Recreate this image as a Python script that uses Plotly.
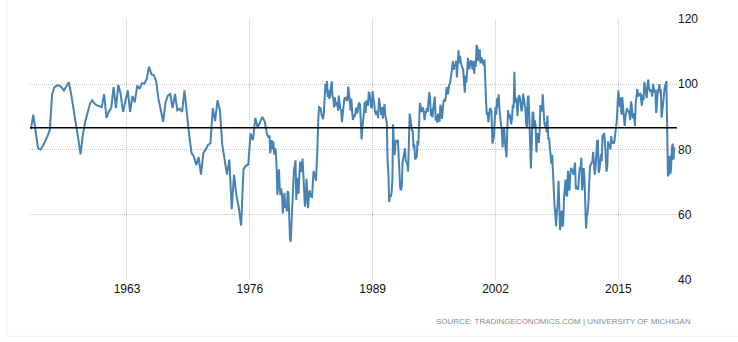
import numpy as np
import pandas as pd
import plotly.graph_objects as go

# ---- quarterly readings 1952-1977 ----
EARLY_DATES = [
    "1952-11", "1953-02", "1953-08", "1953-11",
    "1954-02", "1954-05", "1954-08", "1954-11",
    "1955-02", "1955-05", "1955-08", "1955-11",
    "1956-02", "1956-05", "1956-08", "1956-11",
    "1957-02", "1957-05", "1957-08", "1957-11",
    "1958-02", "1958-05", "1958-08", "1958-11",
    "1959-02", "1959-05", "1959-08", "1959-11",
    "1960-02", "1960-05", "1960-08", "1960-11",
    "1961-02", "1961-05", "1961-08", "1961-11",
    "1962-02", "1962-05", "1962-08", "1962-11",
    "1963-02", "1963-05", "1963-08", "1963-11",
    "1964-02", "1964-05", "1964-08", "1964-11",
    "1965-02", "1965-05", "1965-08", "1965-11",
    "1966-02", "1966-05", "1966-08", "1966-11",
    "1967-02", "1967-05", "1967-08", "1967-11",
    "1968-02", "1968-05", "1968-08", "1968-11",
    "1969-02", "1969-05", "1969-08", "1969-11",
    "1970-02", "1970-05", "1970-08", "1970-11",
    "1971-02", "1971-05", "1971-08", "1971-11",
    "1972-02", "1972-05", "1972-08", "1972-11",
    "1973-02", "1973-05", "1973-08", "1973-11",
    "1974-02", "1974-05", "1974-08", "1974-11",
    "1975-02", "1975-05", "1975-08", "1975-11",
    "1976-02", "1976-05", "1976-08", "1976-11",
    "1977-02", "1977-05", "1977-08", "1977-11",
]
EARLY_VALUES = [
    86.2, 90.7, 80.5, 80.0,
    81.0, 82.3, 84.0, 86.0,
    97.0, 99.1, 99.6, 99.6,
    99.0, 98.1, 99.6, 100.6,
    97.1, 92.8, 88.8, 83.5,
    78.5, 84.5, 88.5, 91.7,
    94.0, 95.1, 94.0, 93.5,
    93.2, 93.0, 97.0, 89.7,
    91.7, 92.6, 99.1, 92.7,
    99.8, 97.0, 91.5, 94.5,
    98.1, 91.5, 96.4, 94.5,
    99.6, 98.6, 100.3, 100.2,
    101.5, 105.4, 103.1, 102.8,
    101.0, 95.5, 91.5, 88.5,
    94.5, 96.5, 97.0, 92.7,
    97.0, 92.0, 92.5, 91.5,
    98.1, 90.5, 84.5, 78.9,
    77.9, 75.2, 77.7, 72.3,
    78.9, 80.0, 81.4, 81.9,
    92.7, 88.7, 95.1, 92.0,
    81.4, 77.0, 72.3, 76.9,
    61.7, 72.3, 66.0, 62.2,
    56.7, 74.0, 75.0, 75.4,
    84.9, 82.9, 89.7, 86.7,
    88.5, 90.0, 88.5, 84.5,
]

# ---- monthly readings from Jan 1978 ----
MONTHLY_START = "1978-01"
VALUES_1978_1989 = [
    83.7, 84.3, 78.8, 81.6, 82.9, 80.0, 82.4, 78.4, 80.4, 79.3, 75.0, 66.1,
    72.1, 73.9, 68.4, 66.0, 68.1, 65.8, 60.4, 64.5, 66.7, 62.1, 63.3, 61.0,
    67.0, 66.9, 56.5, 52.7, 51.7, 58.7, 62.3, 67.3, 73.7, 75.0, 76.7, 64.5,
    71.4, 66.9, 66.5, 72.4, 76.3, 73.1, 74.1, 77.2, 73.1, 70.3, 62.5, 64.3,
    71.0, 66.5, 62.0, 65.5, 67.5, 65.7, 65.4, 65.4, 69.3, 73.4, 72.1, 71.9,
    70.4, 74.6, 80.8, 89.1, 93.3, 92.2, 92.8, 90.9, 89.9, 89.3, 91.1, 94.2,
    100.1, 97.4, 101.0, 96.1, 98.1, 95.5, 96.6, 99.1, 100.9, 96.3, 95.7, 92.9,
    96.0, 93.7, 93.7, 94.6, 91.8, 96.5, 94.0, 92.4, 92.1, 88.4, 90.9, 93.9,
    95.6, 95.9, 95.1, 96.2, 94.8, 99.3, 97.7, 94.9, 91.9, 95.6, 91.4, 89.1,
    90.4, 90.2, 90.8, 92.8, 91.1, 91.5, 93.7, 94.4, 93.6, 89.3, 83.1, 86.8,
    90.8, 91.6, 94.6, 91.2, 94.8, 94.7, 93.4, 97.4, 97.3, 94.1, 93.0, 92.9,
    97.9, 95.4, 94.3, 91.5, 90.7, 90.6, 92.0, 89.6, 95.8, 93.9, 90.9, 90.5,
]
VALUES_1990_2004 = [
    93.0, 89.5, 91.3, 93.9, 90.6, 88.3, 88.2, 76.4, 72.8, 63.9, 66.0, 65.5,
    66.8, 70.4, 87.7, 81.8, 78.3, 82.1, 82.9, 82.0, 83.0, 78.3, 69.1, 68.2,
    67.5, 68.8, 76.0, 77.2, 79.2, 80.4, 76.6, 76.1, 75.6, 73.3, 85.3, 91.0,
    89.3, 86.6, 85.9, 85.6, 80.3, 81.5, 77.0, 77.3, 77.9, 82.7, 81.2, 88.2,
    94.3, 93.2, 91.5, 92.6, 92.8, 91.2, 89.0, 91.7, 91.5, 92.7, 91.6, 95.1,
    97.6, 95.1, 90.3, 92.5, 89.8, 92.7, 94.4, 96.2, 88.9, 90.2, 88.2, 91.0,
    89.3, 88.5, 93.7, 92.7, 89.4, 92.4, 94.7, 95.3, 94.7, 96.5, 99.2, 96.9,
    97.4, 99.7, 100.0, 101.4, 103.2, 104.5, 107.1, 104.4, 106.0, 105.6, 107.2, 102.1,
    106.6, 110.4, 106.5, 108.7, 106.5, 105.6, 105.2, 104.4, 100.9, 97.4, 102.7, 100.5,
    103.9, 108.1, 105.7, 104.6, 106.8, 107.3, 106.0, 104.5, 107.2, 103.2, 107.2, 105.4,
    112.0, 111.3, 107.1, 109.2, 110.7, 106.4, 108.3, 107.3, 106.8, 105.8, 107.6, 98.4,
    94.7, 90.6, 91.5, 88.4, 92.0, 92.6, 92.4, 91.5, 81.8, 82.7, 83.9, 88.8,
    93.0, 90.7, 95.7, 93.0, 96.9, 92.4, 88.1, 87.6, 86.1, 80.6, 84.2, 86.7,
    82.4, 79.9, 77.6, 86.0, 92.1, 89.7, 90.9, 89.3, 87.7, 89.6, 93.7, 92.6,
    103.8, 94.4, 95.8, 94.2, 90.2, 95.6, 96.7, 95.9, 94.2, 91.7, 92.8, 97.1,
]
VALUES_2005_2020 = [
    95.5, 94.1, 92.6, 87.7, 86.9, 96.0, 96.5, 89.1, 76.9, 74.2, 81.6, 91.5,
    91.2, 86.7, 88.9, 87.4, 79.1, 84.9, 84.7, 82.0, 85.4, 93.6, 92.1, 91.7,
    96.9, 91.3, 88.4, 87.1, 88.3, 85.3, 90.4, 83.4, 83.4, 80.9, 76.1, 75.5,
    78.4, 70.8, 69.5, 62.6, 59.8, 56.4, 61.2, 63.0, 70.3, 57.6, 55.3, 60.1,
    61.2, 56.3, 57.3, 65.1, 68.7, 70.8, 66.0, 65.7, 73.5, 70.6, 67.4, 72.5,
    74.4, 73.6, 73.6, 72.2, 73.6, 76.0, 67.8, 68.9, 68.2, 67.7, 71.6, 74.5,
    74.2, 77.5, 67.5, 69.8, 74.3, 71.5, 63.7, 55.8, 59.5, 60.8, 63.7, 69.9,
    75.0, 75.3, 76.2, 76.4, 79.3, 73.2, 72.3, 74.3, 78.3, 82.6, 82.7, 72.9,
    73.8, 77.6, 78.6, 76.4, 84.5, 84.1, 85.1, 82.1, 77.5, 73.2, 75.1, 82.5,
    81.2, 81.6, 80.0, 84.1, 81.9, 82.5, 81.8, 82.5, 84.6, 86.9, 88.8, 93.6,
    98.1, 95.4, 93.0, 95.9, 90.7, 96.1, 93.1, 91.9, 87.2, 90.0, 91.3, 92.6,
    92.0, 91.7, 91.0, 89.0, 94.7, 93.5, 90.0, 89.8, 91.2, 87.2, 93.8, 98.2,
    98.5, 96.3, 96.9, 97.0, 97.1, 95.1, 93.4, 96.8, 95.1, 100.7, 98.5, 95.9,
    95.7, 99.7, 101.4, 98.8, 98.0, 98.2, 97.9, 96.2, 100.1, 98.6, 97.5, 98.3,
    91.2, 93.8, 98.4, 97.2, 100.0, 98.2, 98.4, 89.8, 93.2, 95.5, 96.8, 99.3,
    99.8, 101.0, 89.1, 71.8, 72.3, 78.1, 72.5, 74.1, 80.4, 81.8, 76.9, 80.7,
]

X_TICK_LABELS = ["1963", "1976", "1989", "2002", "2015"]
Y_TICKS = [40, 60, 80, 100, 120]
SOURCE_TEXT = "SOURCE: TRADINGECONOMICS.COM | UNIVERSITY OF MICHIGAN"

monthly_values = VALUES_1978_1989 + VALUES_1990_2004 + VALUES_2005_2020
monthly_dates = pd.date_range(MONTHLY_START, periods=len(monthly_values), freq="MS")
early_dates = pd.to_datetime(EARLY_DATES)

dates = list(early_dates) + list(monthly_dates)
values = EARLY_VALUES + monthly_values
mean_value = float(np.mean(values))

fig = go.Figure()
fig.add_trace(go.Scatter(
    x=dates, y=values, mode="lines",
    line=dict(color="#4682b4", width=2),
    hoverinfo="skip", showlegend=False,
))

fig.add_shape(type="line", xref="x domain", yref="y", x0=0, x1=1,
              y0=mean_value, y1=mean_value,
              line=dict(color="#000000", width=1.5))

# outer frame (light gray) left and bottom
fig.add_shape(type="line", xref="paper", yref="paper", x0=-0.0355, x1=-0.0355,
              y0=1.07, y1=-0.216, line=dict(color="#eeeeee", width=1))
fig.add_shape(type="line", xref="paper", yref="paper", x0=-0.0355, x1=1.1,
              y0=-0.216, y1=-0.216, line=dict(color="#eeeeee", width=1))

fig.add_annotation(xref="paper", yref="paper", x=1.0247, y=-0.16,
                   xanchor="right", yanchor="middle", showarrow=False,
                   text=SOURCE_TEXT,
                   font=dict(family="Liberation Sans, Arial", size=8, color="#8a8a95"))

grid_style = dict(showgrid=True, gridcolor="#c4c4c4", griddash="1px,1px", gridwidth=1,
                  zeroline=False, showline=False, ticks="")

fig.update_layout(
    width=738, height=342,
    margin=dict(l=30, r=61, t=16, b=62),
    paper_bgcolor="white", plot_bgcolor="white",
    font=dict(family="Liberation Sans, Arial", size=12, color="#111111"),
    xaxis=dict(
        type="date",
        range=["1952-09-27", "2021-03-17"],
        tickvals=[f"{y}-01-01" for y in X_TICK_LABELS],
        ticktext=X_TICK_LABELS,
        **grid_style,
    ),
    yaxis=dict(
        side="right",
        range=[40, 120],
        tickvals=Y_TICKS,
        **grid_style,
    ),
)

fig.write_html("out.html")
